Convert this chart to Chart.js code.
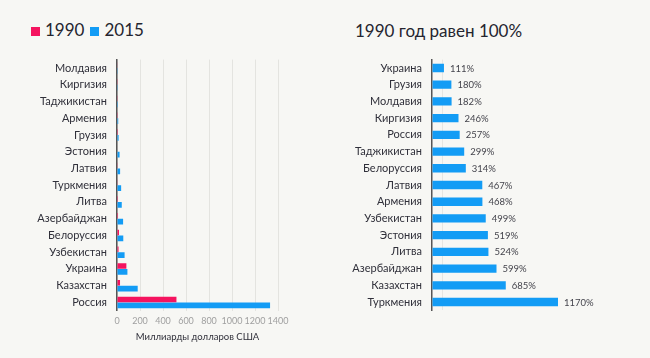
<!DOCTYPE html>
<html>
<head>
<meta charset="utf-8">
<script src="https://cdn.jsdelivr.net/npm/chart.js@4"></script>
<style>
  html, body { margin: 0; padding: 0; background: #f7f7f4; }
  body { width: 650px; height: 358px; position: relative; overflow: hidden; font-family: Lato, "Open Sans", sans-serif; }
  #c1 { position: absolute; left: 0; top: 0; }
  #c2 { position: absolute; left: 325px; top: 0; }
  .legend { position: absolute; left: 31px; top: 19px; font-size: 17px; color: #25252f; white-space: nowrap; }
  .legend span.box { display: inline-block; width: 9px; height: 9px; vertical-align: 0px; margin-right: 5px; }
  .legend span.item { margin-right: 6px; }
  .title { position: absolute; left: 355px; top: 20px; font-size: 17px; color: #25252f; white-space: nowrap; }
</style>
</head>
<body>
<div class="legend"><span class="item"><span class="box" style="background:#f5145f"></span>1990</span><span class="item"><span class="box" style="background:#139cf5"></span>2015</span></div>
<div class="title">1990 год равен 100%</div>
<canvas id="c1" width="325" height="358"></canvas>
<canvas id="c2" width="325" height="358"></canvas>
<script>
const leftCategories = ["Молдавия","Киргизия","Таджикистан","Армения","Грузия","Эстония","Латвия","Туркмения","Литва","Азербайджан","Белоруссия","Узбекистан","Украина","Казахстан","Россия"];
const gdp1990 = [3.6, 2.7, 2.6, 2.3, 7.8, 4.3, 5.8, 3.1, 7.9, 8.9, 17.4, 13.4, 81.5, 26.3, 517];
const gdp2015 = [6.5, 6.6, 7.8, 10.6, 14.0, 22.5, 27.0, 36.0, 41.4, 53.0, 54.6, 66.0, 90.5, 180, 1331];
const xTicksLeft = [0, 200, 400, 600, 800, 1000, 1200, 1400];

const rightCategories = ["Украина","Грузия","Молдавия","Киргизия","Россия","Таджикистан","Белоруссия","Латвия","Армения","Узбекистан","Эстония","Литва","Азербайджан","Казахстан","Туркмения"];
const growthPct = [111, 180, 182, 246, 257, 299, 314, 467, 468, 499, 519, 524, 599, 685, 1170];

const PINK = "#f5145f";
const BLUE = "#139cf5";
const FONT = "Lato, 'Open Sans', sans-serif";

Chart.defaults.font.family = FONT;
Chart.defaults.animation = false;

new Chart(document.getElementById("c1"), {
  type: "bar",
  data: {
    labels: leftCategories,
    datasets: [
      { label: "1990", data: gdp1990, backgroundColor: PINK, categoryPercentage: 0.7, barPercentage: 0.95 },
      { label: "2015", data: gdp2015, backgroundColor: BLUE, categoryPercentage: 0.7, barPercentage: 0.95 }
    ]
  },
  options: {
    indexAxis: "y",
    responsive: false,
    layout: { padding: { top: 59.6, right: 47, bottom: 11, left: 0 } },
    plugins: { legend: { display: false }, tooltip: { enabled: false } },
    scales: {
      x: {
        min: 0, max: 1400,
        afterBuildTicks: (s) => { s.ticks = xTicksLeft.map(v => ({ value: v })); },
        grid: { color: "#e4e4e0", drawTicks: false, lineWidth: 1 },
        border: { display: false },
        ticks: { color: "#a0a0a0", font: { size: 9 }, padding: 5, minRotation: 0, maxRotation: 0, autoSkip: false, callback: (v) => String(v) },
        title: { display: true, text: "Миллиарды долларов США", color: "#30303a", font: { size: 9.5 }, padding: { top: 0, bottom: 4 } }
      },
      y: {
        afterFit: (s) => { s.width = 117; },
        grid: { display: false, drawTicks: false },
        border: { display: true, color: "#555", width: 1.5 },
        ticks: { color: "#30303a", font: { size: 11 }, padding: 10, autoSkip: false }
      }
    }
  }
});

const pctLabels = {
  id: "pctLabels",
  afterDraw(chart) {
    const ctx = chart.ctx;
    const meta = chart.getDatasetMeta(0);
    ctx.save();
    ctx.font = "9.5px Lato, sans-serif";
    ctx.fillStyle = "#44444c";
    ctx.textAlign = "left";
    ctx.textBaseline = "middle";
    for (let i = 0; i < meta.data.length; i++) {
      const bar = meta.data[i];
      ctx.fillText(growthPct[i] + "%", bar.x + 6, bar.y + 0.5);
    }
    ctx.restore();
  }
};

new Chart(document.getElementById("c2"), {
  type: "bar",
  data: {
    labels: rightCategories,
    datasets: [
      { label: "1990 = 100%", data: growthPct, backgroundColor: BLUE, categoryPercentage: 1, barPercentage: 0.5 }
    ]
  },
  options: {
    indexAxis: "y",
    responsive: false,
    layout: { padding: { top: 59.6, right: 78, bottom: 47.6, left: 0 } },
    plugins: { legend: { display: false }, tooltip: { enabled: false } },
    scales: {
      x: {
        min: 0, max: 1300,
        afterFit: (s) => { s.height = 0; },
        ticks: { display: false, stepSize: 100 },
        grid: { drawTicks: false, color: (c) => (c.tick && c.tick.value === 100) ? "#e6e6e2" : "rgba(0,0,0,0)" },
        border: { display: false }
      },
      y: {
        afterFit: (s) => { s.width = 107; },
        grid: { display: false, drawTicks: false },
        border: { display: true, color: "#555", width: 1.5 },
        ticks: { color: "#30303a", font: { size: 11 }, padding: 10, autoSkip: false }
      }
    }
  },
  plugins: [pctLabels]
});
</script>
</body>
</html>
